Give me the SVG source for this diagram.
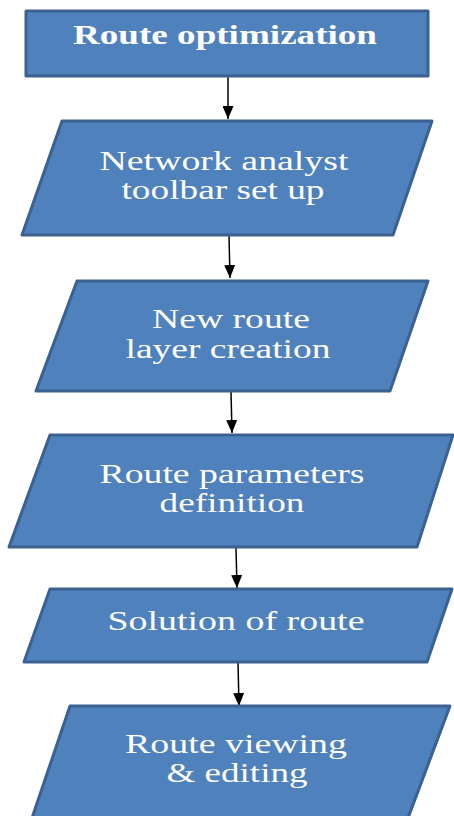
<svg xmlns="http://www.w3.org/2000/svg" width="454" height="816" viewBox="0 0 454 816">
<style>
.box{fill:#4f81bd;stroke:#3a6190;stroke-width:3;stroke-linejoin:round}
.t{font-family:"Liberation Serif","DejaVu Serif",serif;font-size:27px;fill:#ffffff;text-anchor:middle}
.b{font-weight:bold}
.c{stroke:#000;stroke-width:1.5;fill:none}
</style>
<defs>
<marker id="ah" markerWidth="14" markerHeight="11" refX="13" refY="5.5" orient="auto" markerUnits="userSpaceOnUse">
<path d="M0,0 L13,5.5 L0,11 Z" fill="#000"/>
</marker>
</defs>
<rect width="454" height="816" fill="#ffffff"/>
<g id="connectors">
<line class="c" x1="228" y1="77" x2="228" y2="119" marker-end="url(#ah)"/>
<line class="c" x1="229" y1="236" x2="230" y2="278" marker-end="url(#ah)"/>
<line class="c" x1="231" y1="392" x2="232" y2="433" marker-end="url(#ah)"/>
<line class="c" x1="236" y1="548" x2="237" y2="588" marker-end="url(#ah)"/>
<line class="c" x1="238" y1="663" x2="239" y2="706" marker-end="url(#ah)"/>
</g>
<g id="n1">
<rect class="box" x="26" y="11" width="402" height="65"/>
<text class="t b" x="225" y="44" textLength="304" lengthAdjust="spacingAndGlyphs">Route optimization</text>
</g>
<g id="n2">
<polygon class="box" points="62,121 432,121 393,235 22,235"/>
<text class="t" x="224" y="170" textLength="249" lengthAdjust="spacingAndGlyphs">Network analyst</text>
<text class="t" x="223" y="199" textLength="203" lengthAdjust="spacingAndGlyphs">toolbar set up</text>
</g>
<g id="n3">
<polygon class="box" points="77,281 428,281 390,391 36,391"/>
<text class="t" x="231" y="328" textLength="158" lengthAdjust="spacingAndGlyphs">New route</text>
<text class="t" x="228" y="358" textLength="205" lengthAdjust="spacingAndGlyphs">layer creation</text>
</g>
<g id="n4">
<polygon class="box" points="50,435 453,435 417,547 9,547"/>
<text class="t" x="232" y="483" textLength="265" lengthAdjust="spacingAndGlyphs">Route parameters</text>
<text class="t" x="232" y="512" textLength="145" lengthAdjust="spacingAndGlyphs">definition</text>
</g>
<g id="n5">
<polygon class="box" points="50,589 452,589 427,662 24,662"/>
<text class="t" x="236" y="630" textLength="257" lengthAdjust="spacingAndGlyphs">Solution of route</text>
</g>
<g id="n6">
<polygon class="box" points="70,706 450,706 408,818 32,818"/>
<text class="t" x="236" y="753" textLength="222" lengthAdjust="spacingAndGlyphs">Route viewing</text>
<text class="t" x="237" y="782" textLength="141" lengthAdjust="spacingAndGlyphs">&amp; editing</text>
</g>
</svg>
